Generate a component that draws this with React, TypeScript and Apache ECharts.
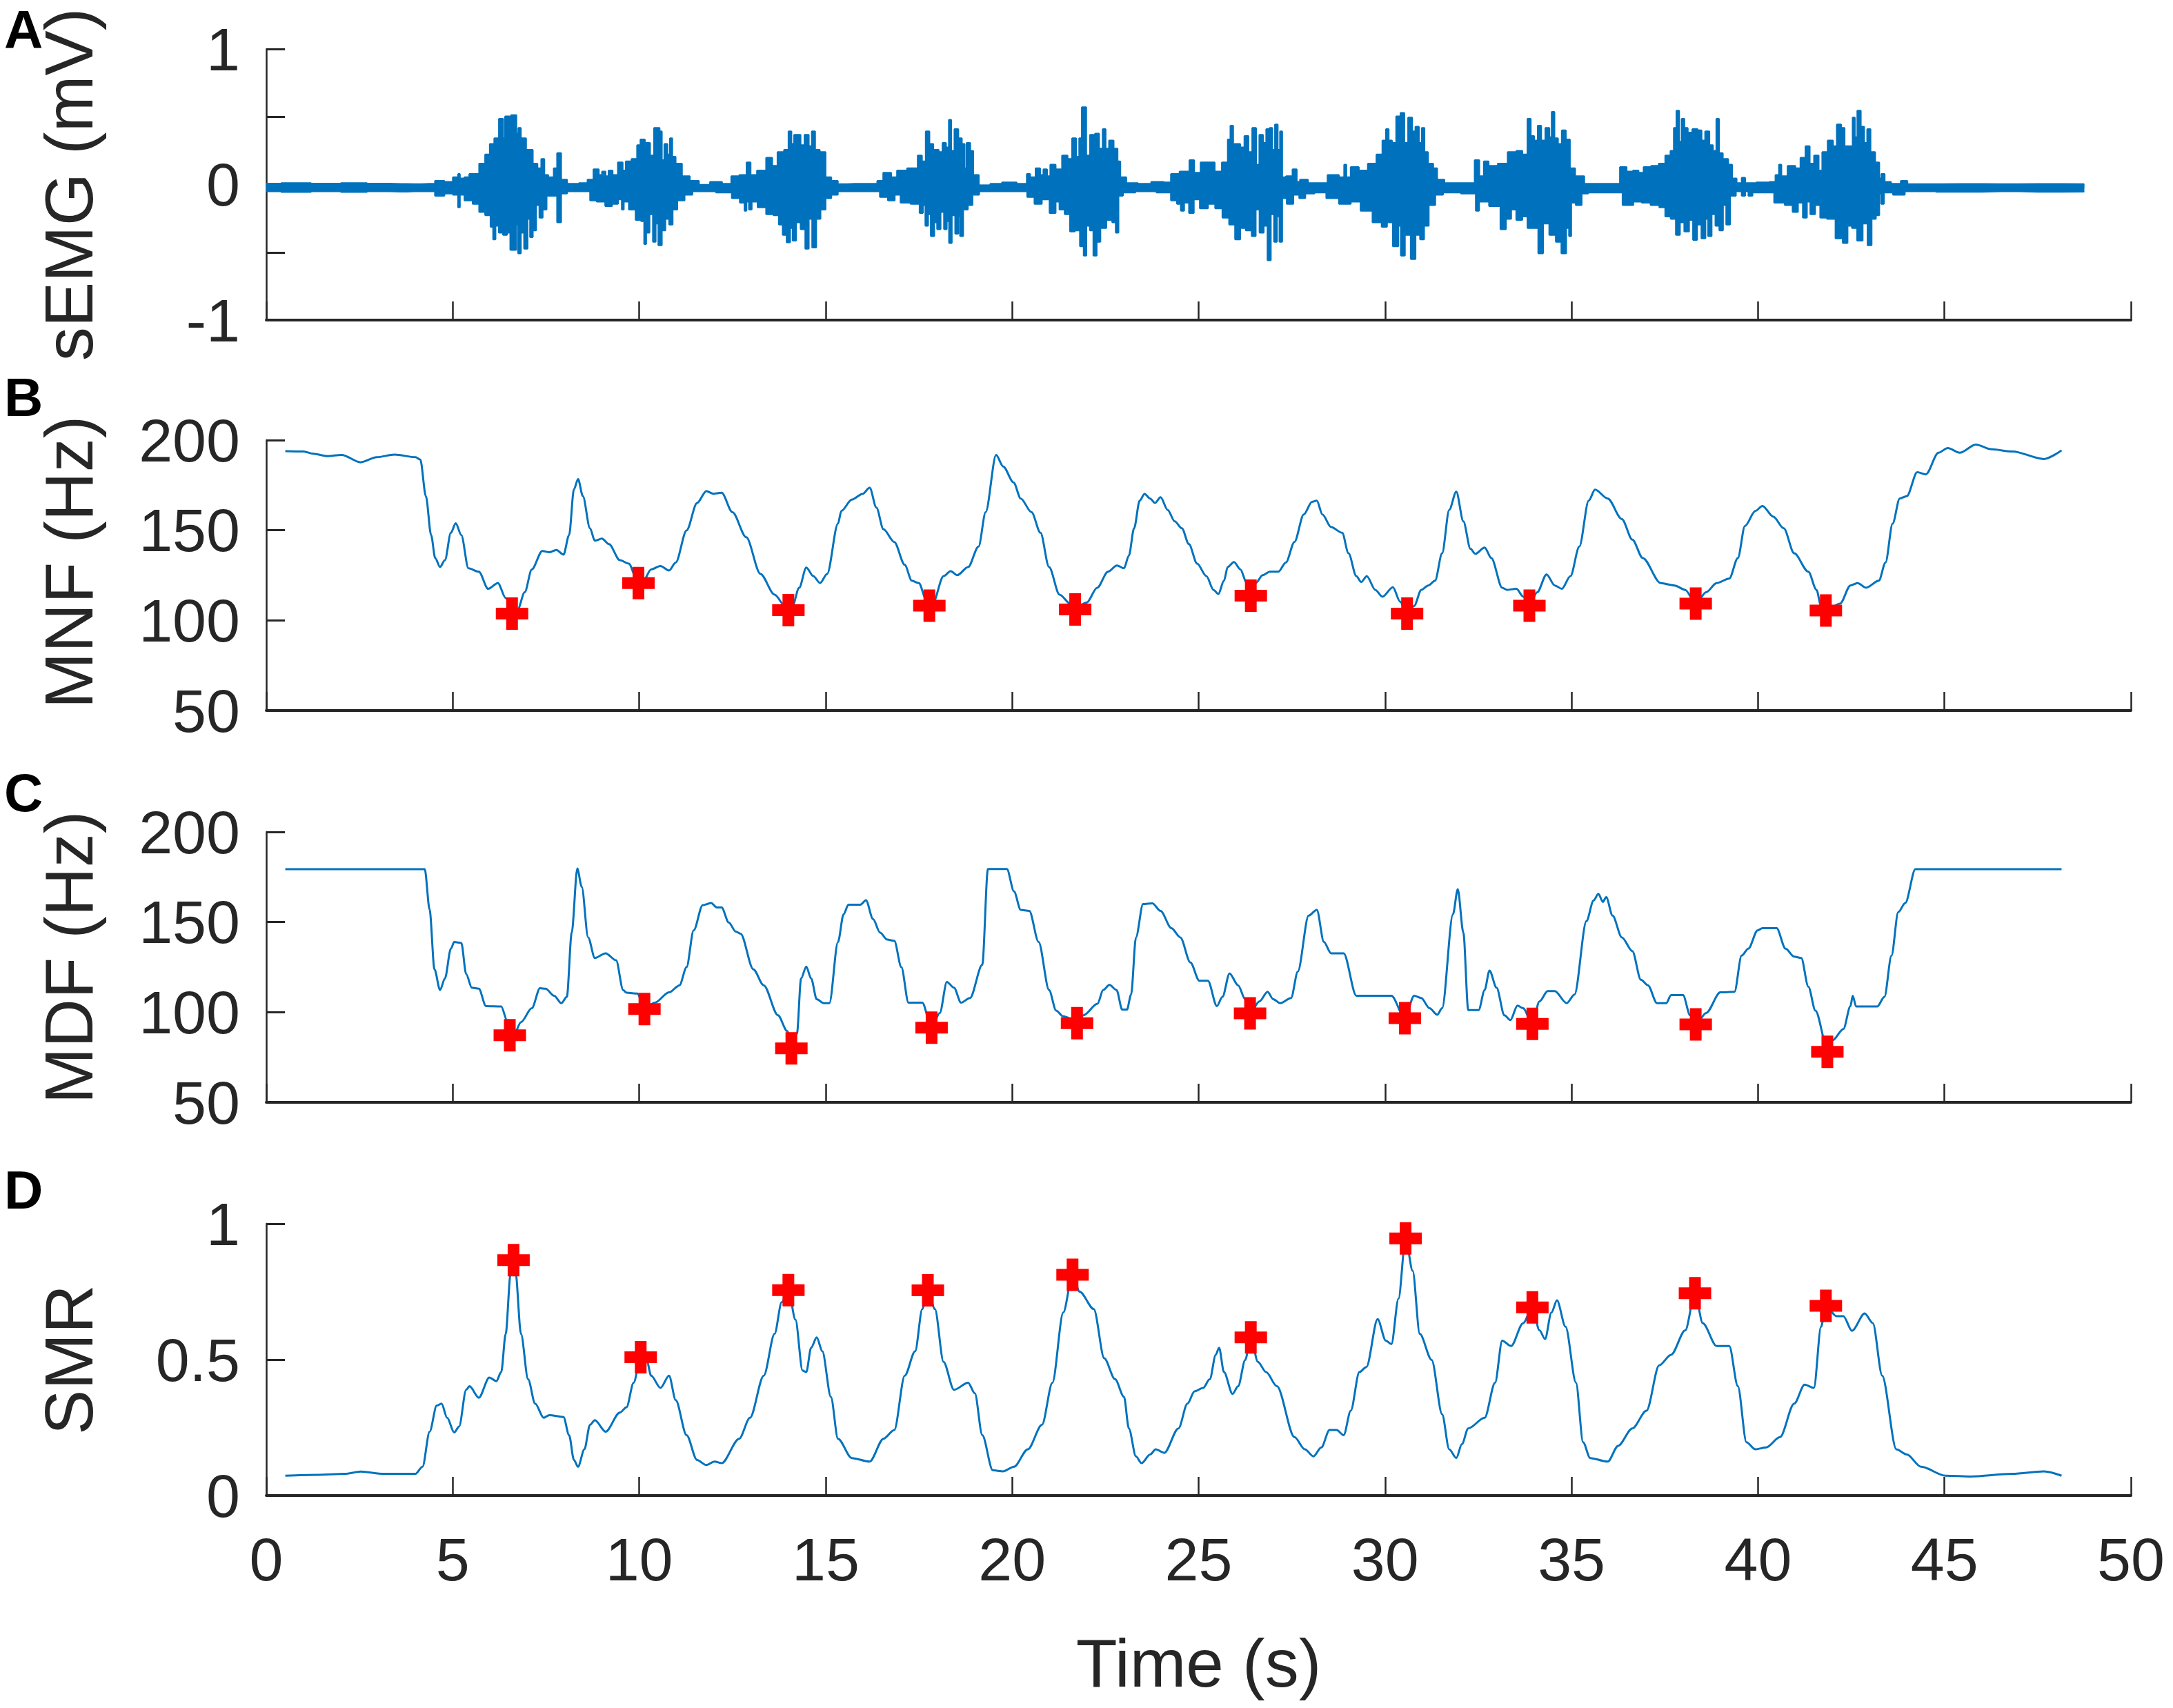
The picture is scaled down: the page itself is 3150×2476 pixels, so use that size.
import React, { useEffect, useRef } from 'react';
import * as echarts from 'echarts';

type Pt = [number, number];

const timeTicks = [0, 50, 5];

// sEMG envelope
const emgUpper: Pt[] = [
  [0, 0.006], [0.8, 0.01], [1.6, 0.006], [2.4, 0.01], [3, 0.006], [3.6, 0.004], [3.96, 0.002],
  [4.38, 0.005], [4.67, 0.027], [4.88, 0.019], [5.13, 0.053], [5.16, 0.078], [5.22, 0.044], [5.41, 0.053], [5.48, 0.078], [5.66, 0.078],
  [5.76, 0.154], [5.98, 0.222], [6.01, 0.299], [6.22, 0.341], [6.26, 0.485], [6.33, 0.485], [6.37, 0.341], [6.44, 0.502], [6.51, 0.502],
  [6.54, 0.324], [6.59, 0.511], [6.68, 0.511], [6.73, 0.375], [6.79, 0.417], [6.86, 0.341], [7.07, 0.256], [7.22, 0.154], [7.32, 0.12],
  [7.43, 0.188], [7.48, 0.07], [7.64, 0.053], [7.78, 0.12], [7.82, 0.231], [7.89, 0.231], [7.92, 0.036], [8.21, 0.005], [8.56, 0.01],
  [8.67, 0.036], [8.88, 0.112], [8.95, 0.07], [9.06, 0.095], [9.13, 0.061], [9.23, 0.103], [9.34, 0.07], [9.52, 0.163], [9.59, 0.103],
  [9.69, 0.171], [9.9, 0.188], [9.99, 0.29], [10.08, 0.332], [10.22, 0.307], [10.36, 0.214], [10.44, 0.417], [10.51, 0.417], [10.58, 0.392],
  [10.63, 0.18], [10.72, 0.299], [10.79, 0.222], [10.86, 0.341], [10.91, 0.205], [11.04, 0.154], [11.25, 0.061], [11.46, 0.027], [11.74, -0.002],
  [12.06, 0.019], [12.38, 0.005], [12.56, 0.061], [12.81, 0.07], [12.95, 0.163], [13.02, 0.07], [13.3, 0.103], [13.51, 0.197], [13.62, 0.137],
  [13.8, 0.239], [13.97, 0.256], [14.04, 0.392], [14.12, 0.299], [14.19, 0.366], [14.29, 0.366], [14.36, 0.29], [14.51, 0.366], [14.58, 0.282],
  [14.68, 0.392], [14.75, 0.256], [14.93, 0.239], [15.06, 0.053], [15.24, 0.027], [15.41, 0.002], [15.77, 0.005], [16.33, 0.005], [16.44, 0.027],
  [16.65, 0.087], [16.86, 0.053], [16.97, 0.103], [17.4, 0.12], [17.54, 0.214], [17.62, 0.171], [17.75, 0.392], [17.81, 0.299], [17.96, 0.256],
  [18.1, 0.239], [18.17, 0.307], [18.28, 0.273], [18.33, 0.477], [18.4, 0.248], [18.51, 0.409], [18.6, 0.341], [18.7, 0.299], [18.75, 0.12],
  [18.81, 0.307], [18.94, 0.248], [18.97, 0.07], [19.24, -0.007], [19.59, 0.005], [19.87, 0.015], [20.37, 0.005], [20.42, 0.078], [20.54, 0.053],
  [20.72, 0.12], [20.78, 0.07], [20.9, 0.112], [20.97, 0.061], [21.08, 0.146], [21.25, 0.112], [21.43, 0.214], [21.54, 0.188], [21.68, 0.341],
  [21.75, 0.205], [21.85, 0.341], [21.89, 0.57], [21.96, 0.57], [22.01, 0.214], [22.17, 0.366], [22.28, 0.375], [22.38, 0.265], [22.48, 0.409],
  [22.53, 0.265], [22.67, 0.324], [22.77, 0.265], [22.88, 0.171], [22.92, 0.053], [23.2, 0.01], [23.55, 0.005], [23.91, 0.019], [24.22, 0.015],
  [24.3, 0.078], [24.68, 0.095], [24.83, 0.18], [24.93, 0.087], [25.18, 0.163], [25.36, 0.163], [25.5, 0.095], [25.75, 0.163], [25.82, 0.332],
  [25.89, 0.434], [25.96, 0.299], [26.07, 0.299], [26.16, 0.273], [26.3, 0.358], [26.37, 0.239], [26.51, 0.417], [26.57, 0.146], [26.69, 0.366],
  [26.76, 0.307], [26.87, 0.409], [26.94, 0.417], [27.01, 0.256], [27.09, 0.443], [27.15, 0.256], [27.22, 0.392], [27.26, 0.053], [27.43, 0.061],
  [27.61, 0.112], [27.65, 0.019], [27.79, 0.036], [28.07, 0.01], [28.28, 0.01], [28.64, 0.07], [28.88, 0.053], [28.93, 0.146], [28.99, 0.053],
  [29.17, 0.129], [29.42, 0.103], [29.66, 0.154], [29.88, 0.222], [29.98, 0.324], [30.07, 0.409], [30.12, 0.324], [30.25, 0.307], [30.35, 0.502],
  [30.48, 0.528], [30.55, 0.307], [30.69, 0.494], [30.76, 0.392], [30.87, 0.426], [30.94, 0.307], [31.03, 0.417], [31.08, 0.239], [31.22, 0.154],
  [31.36, 0.12], [31.43, 0.036], [31.75, 0.01], [32.39, 0.01], [32.42, 0.18], [32.49, 0.18], [32.56, 0.061], [32.74, 0.171], [32.81, 0.137],
  [33.24, 0.154], [33.34, 0.239], [33.45, 0.239], [33.59, 0.248], [33.77, 0.222], [33.87, 0.485], [33.94, 0.358], [34.05, 0.324], [34.14, 0.434],
  [34.23, 0.324], [34.37, 0.417], [34.44, 0.349], [34.5, 0.536], [34.58, 0.341], [34.69, 0.299], [34.79, 0.4], [34.9, 0.332], [35.01, 0.12],
  [35.18, 0.061], [35.5, 0.005], [36.21, 0.005], [36.39, 0.129], [36.56, 0.095], [36.74, 0.103], [36.85, 0.087], [37.02, 0.129], [37.25, 0.137],
  [37.43, 0.154], [37.6, 0.214], [37.71, 0.248], [37.78, 0.417], [37.85, 0.545], [37.92, 0.316], [37.99, 0.485], [38.06, 0.417], [38.17, 0.383],
  [38.31, 0.409], [38.45, 0.4], [38.52, 0.324], [38.65, 0.392], [38.74, 0.29], [38.84, 0.248], [38.93, 0.485], [38.98, 0.231], [39.13, 0.188],
  [39.27, 0.146], [39.34, 0.044], [39.51, 0.01], [39.62, 0.049], [39.69, 0.01], [40.22, 0.015], [40.4, 0.019], [40.54, 0.07], [40.59, 0.146],
  [40.66, 0.061], [40.93, 0.137], [41.07, 0.12], [41.21, 0.197], [41.34, 0.282], [41.43, 0.154], [41.58, 0.214], [41.67, 0.103], [41.78, 0.239],
  [41.96, 0.324], [42.06, 0.282], [42.17, 0.443], [42.29, 0.417], [42.35, 0.282], [42.52, 0.282], [42.56, 0.494], [42.63, 0.349], [42.7, 0.545],
  [42.81, 0.426], [42.88, 0.307], [42.98, 0.409], [43.05, 0.239], [43.23, 0.163], [43.27, 0.044], [43.35, 0.078], [43.44, 0.019], [43.69, 0.005],
  [43.97, 0.027], [44.04, 0.002], [44.33, 0.002], [45.5, 0.004], [46.5, 0.002], [47.5, 0.004], [48.75, 0.002],
];

const emgLower: Pt[] = [
  [0, -0.05], [0.8, -0.055], [1.6, -0.05], [2.4, -0.055], [3, -0.05], [3.6, -0.052], [3.96, -0.05],
  [4.38, -0.049], [4.67, -0.083], [4.88, -0.066], [5.13, -0.075], [5.16, -0.168], [5.22, -0.075], [5.41, -0.117], [5.66, -0.142], [5.76, -0.202],
  [5.98, -0.227], [6.05, -0.312], [6.12, -0.405], [6.17, -0.304], [6.3, -0.355], [6.4, -0.371], [6.51, -0.355], [6.58, -0.482], [6.68, -0.482],
  [6.72, -0.295], [6.79, -0.507], [6.86, -0.355], [6.97, -0.473], [7.04, -0.253], [7.11, -0.388], [7.18, -0.338], [7.29, -0.151], [7.36, -0.244],
  [7.46, -0.185], [7.57, -0.083], [7.78, -0.083], [7.82, -0.278], [7.89, -0.278], [7.92, -0.066], [8.21, -0.049], [8.63, -0.049], [8.74, -0.117],
  [8.98, -0.126], [9.2, -0.159], [9.34, -0.142], [9.52, -0.109], [9.55, -0.185], [9.62, -0.126], [9.83, -0.185], [9.98, -0.261], [10.12, -0.27],
  [10.15, -0.439], [10.22, -0.355], [10.33, -0.219], [10.41, -0.422], [10.47, -0.287], [10.56, -0.448], [10.65, -0.338], [10.75, -0.253],
  [10.86, -0.295], [10.93, -0.185], [11.11, -0.117], [11.32, -0.075], [11.53, -0.049], [11.74, -0.049], [12.38, -0.058], [12.59, -0.1],
  [12.81, -0.134], [12.84, -0.193], [12.91, -0.126], [12.98, -0.185], [13.05, -0.126], [13.3, -0.168], [13.51, -0.219], [13.69, -0.227],
  [13.8, -0.295], [13.9, -0.371], [14.01, -0.426], [14.08, -0.321], [14.15, -0.414], [14.26, -0.278], [14.4, -0.329], [14.51, -0.473],
  [14.58, -0.253], [14.7, -0.465], [14.79, -0.253], [14.93, -0.185], [15.06, -0.1], [15.24, -0.075], [15.41, -0.049], [16.33, -0.049],
  [16.58, -0.092], [16.76, -0.117], [16.94, -0.075], [17.08, -0.134], [17.47, -0.142], [17.57, -0.21], [17.64, -0.151], [17.71, -0.304],
  [17.78, -0.219], [17.86, -0.38], [17.96, -0.278], [18.02, -0.329], [18.14, -0.202], [18.21, -0.329], [18.28, -0.27], [18.34, -0.431],
  [18.42, -0.227], [18.53, -0.363], [18.58, -0.236], [18.63, -0.38], [18.74, -0.185], [18.88, -0.151], [18.99, -0.075], [19.24, -0.049],
  [20.3, -0.049], [20.51, -0.092], [20.69, -0.142], [20.9, -0.109], [21.11, -0.21], [21.22, -0.126], [21.32, -0.185], [21.5, -0.219],
  [21.61, -0.346], [21.75, -0.338], [21.89, -0.456], [21.95, -0.524], [22.03, -0.304], [22.14, -0.338], [22.22, -0.524], [22.31, -0.422],
  [22.42, -0.321], [22.63, -0.261], [22.74, -0.278], [22.82, -0.355], [22.88, -0.083], [23.06, -0.058], [23.55, -0.049], [24.19, -0.058],
  [24.33, -0.117], [24.51, -0.142], [24.54, -0.193], [24.68, -0.134], [24.81, -0.21], [24.93, -0.109], [25.14, -0.176], [25.36, -0.142],
  [25.53, -0.176], [25.75, -0.244], [25.89, -0.295], [26.07, -0.405], [26.16, -0.321], [26.37, -0.338], [26.48, -0.38], [26.58, -0.185],
  [26.69, -0.355], [26.8, -0.304], [26.9, -0.558], [26.97, -0.219], [27.08, -0.422], [27.12, -0.236], [27.22, -0.422], [27.26, -0.1],
  [27.47, -0.142], [27.61, -0.075], [27.79, -0.1], [27.93, -0.066], [28.28, -0.058], [28.57, -0.1], [28.96, -0.142], [29.2, -0.126],
  [29.49, -0.193], [29.84, -0.278], [29.98, -0.312], [30.12, -0.278], [30.3, -0.456], [30.41, -0.304], [30.44, -0.524], [30.62, -0.371],
  [30.76, -0.55], [30.87, -0.371], [31.01, -0.405], [31.08, -0.304], [31.26, -0.151], [31.43, -0.075], [31.68, -0.058], [32.39, -0.066],
  [32.48, -0.193], [32.56, -0.126], [33.02, -0.159], [33.17, -0.329], [33.31, -0.253], [33.45, -0.185], [33.59, -0.261], [33.77, -0.236],
  [33.87, -0.321], [34.05, -0.321], [34.17, -0.507], [34.3, -0.287], [34.51, -0.371], [34.65, -0.422], [34.81, -0.507], [34.9, -0.321],
  [34.97, -0.38], [35.01, -0.134], [35.22, -0.151], [35.32, -0.066], [35.57, -0.058], [36.21, -0.058], [36.53, -0.151], [36.78, -0.126],
  [36.99, -0.134], [37.25, -0.151], [37.46, -0.168], [37.57, -0.236], [37.75, -0.253], [37.85, -0.371], [37.96, -0.278], [38.09, -0.346],
  [38.21, -0.261], [38.31, -0.409], [38.42, -0.295], [38.55, -0.397], [38.63, -0.253], [38.7, -0.38], [38.81, -0.219], [38.91, -0.304],
  [39.02, -0.338], [39.1, -0.151], [39.2, -0.295], [39.3, -0.083], [39.51, -0.049], [39.62, -0.083], [39.69, -0.049], [39.8, -0.083],
  [39.9, -0.058], [40.29, -0.058], [40.58, -0.134], [40.86, -0.151], [41, -0.202], [41.14, -0.134], [41.27, -0.244], [41.35, -0.126],
  [41.46, -0.219], [41.6, -0.151], [41.74, -0.244], [41.96, -0.253], [42.2, -0.397], [42.35, -0.431], [42.45, -0.304], [42.59, -0.321],
  [42.73, -0.414], [42.88, -0.287], [43, -0.448], [43.09, -0.253], [43.23, -0.227], [43.27, -0.066], [43.34, -0.142], [43.41, -0.058],
  [43.83, -0.075], [44.04, -0.049], [45.5, -0.053], [46.5, -0.05], [47.5, -0.053], [48.75, -0.052],
];

const mnfLine: Pt[] = [
  [0.51, 193.9], [1, 193.7], [1.26, 192.4], [1.64, 191.1], [2.02, 191.8], [2.53, 187.7], [2.96, 190.5], [3.44, 192], [4, 190.5], [4.13, 189.2],
  [4.28, 168.9], [4.42, 147.3], [4.53, 134.6], [4.66, 129.6], [4.79, 133.4], [4.95, 148.6], [5.08, 153.9], [5.23, 147.3], [5.42, 128.9], [5.7, 127],
  [5.95, 117.5], [6.21, 120.7], [6.42, 112.4], [6.6, 104.8], [6.74, 106], [6.93, 115.6], [7.12, 128.3], [7.4, 138.5], [7.59, 137.8], [7.78, 139.1],
  [7.97, 136.5], [8.12, 147.3], [8.25, 172.7], [8.36, 178.4], [8.49, 168.9], [8.68, 151.1], [8.81, 144.2], [9, 145.4], [9.19, 142.3], [9.48, 133.4],
  [9.72, 131.5], [9.95, 122], [10.08, 120.7], [10.32, 128.3], [10.57, 130.2], [10.8, 127.7], [10.98, 132.1], [11.27, 149.9], [11.55, 165.1], [11.8, 171.7],
  [11.99, 170.2], [12.21, 170.8], [12.5, 160], [12.87, 146.1], [13.25, 125.8], [13.63, 114.3], [13.91, 108], [14.1, 107.4], [14.29, 118.1], [14.48, 129.3],
  [14.67, 124.5], [14.85, 120.7], [15.04, 125.8], [15.33, 153.7], [15.42, 160.7], [15.7, 167], [15.99, 170.2], [16.18, 173.6], [16.36, 162.6], [16.55, 150.5],
  [16.84, 143.5], [17.12, 130.8], [17.31, 122], [17.5, 120.7], [17.69, 111.8], [17.87, 109.3], [18.16, 124.5], [18.35, 127.3], [18.53, 125.1], [18.82, 129.6],
  [19.1, 141], [19.29, 160], [19.57, 191.8], [19.76, 185.4], [20.04, 176.5], [20.23, 167.6], [20.52, 160], [20.76, 148.6], [20.99, 129.6], [21.27, 114.3],
  [21.56, 109.3], [21.72, 107.5], [22, 109.9], [22.28, 118.1], [22.57, 127], [22.81, 130.5], [23, 128.9], [23.13, 135.9], [23.27, 151.1], [23.42, 166.4],
  [23.55, 170.2], [23.7, 167.6], [23.83, 165.1], [23.98, 168.3], [24.17, 161.3], [24.36, 154.9], [24.55, 151.1], [24.74, 142.3], [24.96, 131.5], [25.21, 124.5],
  [25.4, 116.9], [25.53, 114.6], [25.68, 122], [25.78, 129.6], [25.95, 132.4], [26.12, 128.3], [26.29, 120.7], [26.4, 113.7], [26.53, 120.7], [26.72, 125.1],
  [26.91, 127], [27.14, 127], [27.34, 132.1], [27.57, 143.5], [27.82, 158.8], [28.04, 165.8], [28.17, 166.4], [28.32, 158.8], [28.55, 151.8], [28.85, 148.6],
  [29.02, 137.2], [29.23, 124.5], [29.36, 121.3], [29.51, 124.5], [29.74, 116.9], [29.93, 113.1], [30.21, 118.4], [30.4, 110.5], [30.59, 104.2], [30.78, 108],
  [30.97, 116.9], [31.16, 119.4], [31.34, 122], [31.53, 137.2], [31.72, 161.3], [31.91, 171.4], [32.1, 154.9], [32.29, 139.7], [32.42, 136.9], [32.67, 140.4],
  [32.85, 134.6], [33.14, 118.1], [33.27, 116.9], [33.52, 117.5], [33.71, 113.1], [33.87, 108.6], [34.08, 115.6], [34.33, 125.5], [34.55, 119.4], [34.74, 117.5],
  [34.97, 124.5], [35.21, 141], [35.46, 166.4], [35.63, 172.5], [35.97, 167.6], [36.35, 156.2], [36.63, 144.8], [36.91, 134.6], [37.39, 120.7], [37.76, 119.4],
  [38.05, 116.9], [38.33, 109.3], [38.61, 115.6], [38.89, 120.7], [39.23, 123.2], [39.46, 134.6], [39.65, 152.4], [39.93, 160.7], [40.12, 163.5], [40.41, 157.5],
  [40.69, 151.1], [40.97, 137.2], [41.35, 127], [41.57, 116.9], [41.69, 108], [41.9, 106.5], [42.2, 109.3], [42.48, 119.4], [42.67, 120.7], [42.9, 118.1],
  [43.24, 122], [43.42, 132.1], [43.61, 153.7], [43.8, 167.6], [43.99, 168.9], [44.27, 182.2], [44.5, 181], [44.84, 193], [45.09, 195.6], [45.41, 193],
  [45.84, 197.5], [46.26, 194.9], [46.82, 193.7], [47.67, 189.5], [48.14, 194.3],
];

const mnfMarks: Pt[] = [
  [6.59, 103.8], [9.98, 120.7], [14, 105.7], [17.78, 108.2], [21.69, 106.1], [26.4, 113.7], [30.59, 103.8], [33.87, 108.2], [38.33, 109.3], [41.82, 105.5],
];

const mdfLine: Pt[] = [
  [0.51, 179.3], [4.25, 179.3], [4.38, 156.8], [4.51, 123.8], [4.66, 112.3], [4.79, 118.7], [4.95, 135.2], [5.04, 139], [5.23, 138.4], [5.36, 121.2],
  [5.51, 113.6], [5.7, 113], [5.89, 103.4], [6.3, 103.2], [6.46, 95.2], [6.64, 87.5], [6.83, 94.5], [7.12, 102.2], [7.34, 113.3], [7.49, 113],
  [7.72, 109.1], [7.91, 105], [8.06, 108.5], [8.19, 144.1], [8.34, 179.7], [8.46, 169.5], [8.63, 141.5], [8.81, 130.1], [9.1, 132.7], [9.38, 128.8],
  [9.57, 112.3], [9.66, 110.8], [9.95, 110.4], [10.14, 101.8], [10.42, 105.3], [10.8, 111], [11.08, 114.9], [11.27, 125], [11.46, 145.4], [11.7, 159.3],
  [11.93, 160.6], [12.08, 158.1], [12.21, 158.1], [12.4, 149.8], [12.59, 144.7], [12.72, 143.5], [13.06, 123.8], [13.34, 114.9], [13.72, 98.3], [13.97, 89.5],
  [14.08, 81], [14.23, 88.2], [14.34, 118.7], [14.48, 125.3], [14.61, 118.7], [14.76, 107.2], [14.95, 105], [15.1, 105], [15.33, 139], [15.48, 154.3],
  [15.61, 159.6], [15.93, 159.6], [16.08, 162.1], [16.27, 151.7], [16.46, 144.1], [16.65, 140.3], [16.84, 139.6], [17.03, 125], [17.22, 105.3], [17.59, 105.3],
  [17.84, 91.4], [18.06, 99.6], [18.25, 116.8], [18.44, 113.6], [18.63, 105.3], [18.87, 107.9], [19.2, 126.3], [19.35, 179.4], [19.86, 179.4], [20.05, 167],
  [20.23, 156.8], [20.46, 156.2], [20.71, 139], [20.99, 112.3], [21.18, 100.9], [21.37, 97.7], [21.74, 95], [21.91, 98.3], [22.29, 104.7], [22.44, 112.3],
  [22.61, 115.1], [22.8, 112.3], [22.95, 101.5], [23.08, 101.5], [23.19, 109.8], [23.32, 141.5], [23.51, 160], [23.76, 160.4], [23.98, 156.2], [24.27, 146.6],
  [24.51, 141.5], [24.78, 127.6], [25.02, 117.4], [25.25, 117.4], [25.49, 103.4], [25.64, 108.5], [25.83, 121.5], [26.06, 114.9], [26.25, 107.2], [26.38, 99.4],
  [26.63, 106], [26.85, 111.3], [27, 107.2], [27.19, 105], [27.48, 107.9], [27.66, 122.5], [27.95, 153.6], [28.17, 156.8], [28.36, 139], [28.55, 132.7],
  [28.89, 132.7], [29.23, 109.1], [30.17, 109.1], [30.53, 96.7], [30.78, 109.1], [30.97, 107.9], [31.19, 102.2], [31.4, 98.6], [31.53, 102.2], [31.82, 154.3],
  [31.95, 168.2], [32.1, 144.1], [32.23, 101.2], [32.51, 101.2], [32.67, 112.3], [32.8, 123.1], [32.99, 113.6], [33.2, 98.3], [33.36, 95.6], [33.55, 103.7],
  [33.7, 102.2], [33.95, 93.5], [34.14, 106], [34.36, 111.7], [34.55, 111.7], [34.87, 105], [35.08, 109.8], [35.4, 150.5], [35.59, 161.9], [35.72, 165.7],
  [35.84, 161.2], [35.93, 163.8], [36.1, 153.6], [36.35, 141.5], [36.63, 133.9], [36.86, 118], [37.05, 114.9], [37.29, 105], [37.54, 105], [37.67, 109.5],
  [37.99, 109.5], [38.18, 98.3], [38.33, 93.2], [38.61, 99.6], [38.99, 111], [39.37, 111.3], [39.56, 131.4], [39.74, 135.2], [39.99, 145.4], [40.12, 146.6],
  [40.5, 146.6], [40.74, 135.2], [40.97, 130.8], [41.16, 130.1], [41.35, 114.2], [41.54, 100.9], [41.86, 80], [42, 84.4], [42.29, 90.7], [42.48, 103.4],
  [42.54, 109.1], [42.63, 103.2], [43.2, 103.2], [43.39, 108.5], [43.58, 131.4], [43.76, 155.5], [43.95, 160.6], [44.22, 179.3], [48.14, 179.3],
];

const mdfMarks: Pt[] = [
  [6.53, 87.2], [10.14, 101.8], [14.08, 79.9], [17.84, 91.4], [21.74, 93.9], [26.38, 99.4], [30.53, 96.7], [33.95, 93.5], [38.33, 93.2], [41.86, 78],
];

const smrLine: Pt[] = [
  [0.51, 0.073], [1.36, 0.076], [2.11, 0.08], [2.53, 0.088], [3.15, 0.08], [4, 0.08], [4.19, 0.106], [4.38, 0.235], [4.57, 0.331], [4.7, 0.338],
  [4.85, 0.286], [5.04, 0.232], [5.17, 0.254], [5.36, 0.389], [5.45, 0.402], [5.7, 0.36], [5.98, 0.434], [6.17, 0.421], [6.3, 0.454], [6.42, 0.595],
  [6.55, 0.814], [6.63, 0.866], [6.68, 0.827], [6.83, 0.595], [7.02, 0.428], [7.21, 0.338], [7.44, 0.286], [7.59, 0.296], [7.97, 0.289], [8.12, 0.222],
  [8.25, 0.131], [8.36, 0.106], [8.53, 0.17], [8.68, 0.26], [8.81, 0.277], [9.1, 0.235], [9.48, 0.305], [9.66, 0.325], [9.85, 0.415], [10.04, 0.509],
  [10.19, 0.505], [10.32, 0.441], [10.57, 0.396], [10.8, 0.441], [10.98, 0.351], [11.27, 0.222], [11.55, 0.131], [11.8, 0.112], [12.02, 0.125], [12.21, 0.119],
  [12.68, 0.209], [12.97, 0.286], [13.34, 0.441], [13.63, 0.595], [13.82, 0.711], [14, 0.756], [14.19, 0.647], [14.38, 0.46], [14.48, 0.454], [14.61, 0.544],
  [14.76, 0.582], [14.91, 0.531], [15.14, 0.363], [15.33, 0.209], [15.7, 0.138], [16.18, 0.125], [16.55, 0.209], [16.84, 0.241], [17.12, 0.441], [17.4, 0.531],
  [17.59, 0.686], [17.74, 0.755], [17.93, 0.686], [18.16, 0.492], [18.44, 0.389], [18.82, 0.415], [19, 0.376], [19.2, 0.222], [19.48, 0.093], [19.76, 0.089],
  [20.05, 0.106], [20.42, 0.17], [20.8, 0.26], [21.08, 0.415], [21.37, 0.673], [21.62, 0.812], [21.81, 0.75], [22.19, 0.686], [22.47, 0.505], [22.76, 0.428],
  [23, 0.363], [23.13, 0.247], [23.32, 0.144], [23.47, 0.119], [23.7, 0.151], [23.85, 0.17], [24.08, 0.157], [24.46, 0.247], [24.7, 0.338], [24.89, 0.383],
  [25.12, 0.396], [25.3, 0.428], [25.46, 0.518], [25.55, 0.544], [25.68, 0.454], [25.91, 0.374], [26.06, 0.402], [26.25, 0.499], [26.4, 0.582], [26.59, 0.492],
  [26.81, 0.454], [27.1, 0.402], [27.57, 0.215], [27.85, 0.17], [28.08, 0.144], [28.29, 0.177], [28.51, 0.241], [28.7, 0.241], [28.89, 0.222], [29.08, 0.312],
  [29.31, 0.454], [29.5, 0.473], [29.8, 0.649], [30.02, 0.57], [30.17, 0.557], [30.36, 0.724], [30.55, 0.946], [30.74, 0.827], [30.93, 0.595], [31.25, 0.499],
  [31.53, 0.299], [31.72, 0.17], [31.91, 0.138], [32.06, 0.189], [32.23, 0.247], [32.67, 0.286], [32.95, 0.415], [33.14, 0.57], [33.38, 0.55], [33.7, 0.634],
  [33.95, 0.692], [34.14, 0.608], [34.29, 0.576], [34.46, 0.673], [34.61, 0.718], [34.84, 0.621], [35.12, 0.415], [35.31, 0.196], [35.5, 0.138], [35.97, 0.125],
  [36.25, 0.183], [36.63, 0.247], [37.01, 0.312], [37.35, 0.479], [37.67, 0.518], [38.05, 0.608], [38.31, 0.744], [38.52, 0.634], [38.89, 0.55], [39.23, 0.55],
  [39.46, 0.402], [39.69, 0.196], [39.93, 0.17], [40.22, 0.177], [40.59, 0.215], [40.97, 0.338], [41.25, 0.408], [41.5, 0.396], [41.69, 0.621], [41.82, 0.698],
  [42.1, 0.66], [42.29, 0.66], [42.52, 0.606], [42.86, 0.67], [43.08, 0.634], [43.33, 0.441], [43.71, 0.17], [43.99, 0.151], [44.37, 0.106], [45.03, 0.073],
  [45.69, 0.07], [46.82, 0.08], [47.67, 0.089], [48.14, 0.073],
];

const smrMarks: Pt[] = [
  [6.63, 0.866], [10.04, 0.509], [14, 0.756], [17.74, 0.755], [21.62, 0.812], [26.4, 0.582], [30.55, 0.946], [33.95, 0.692], [38.31, 0.744], [41.82, 0.698],
];

const blue = '#0072BD';
const ink = '#262626';
const font = '"Liberation Sans", Arial, sans-serif';
const plusSymbol = 'path://M15,0H32V15H47V32H32V47H15V32H0V15H15Z';

// panel frames: top, height in px
const panels = [
  { top: 71, height: 393, min: -1, max: 1, step: 0.5, name: 'sEMG (mV)', pad: 0, hide: [-0.5, 0.5] },
  { top: 638, height: 392, min: 50, max: 200, step: 50, name: 'MNF (Hz)', pad: 38, hide: [] as number[] },
  { top: 1206, height: 392, min: 50, max: 200, step: 50, name: 'MDF (Hz)', pad: 28, hide: [] as number[] },
  { top: 1774, height: 394, min: 0, max: 1, step: 0.5, name: 'SMR', pad: 0, hide: [] as number[] },
];

const letters = [
  { text: 'A', y: 4 },
  { text: 'B', y: 537 },
  { text: 'C', y: 1110 },
  { text: 'D', y: 1686 },
];

const plainLine = (idx: number, data: Pt[]) => ({
  type: 'line',
  xAxisIndex: idx,
  yAxisIndex: idx,
  data,
  showSymbol: false,
  silent: true,
  smooth: 0.3,
  smoothMonotone: 'x',
  lineStyle: { color: blue, width: 3, join: 'round' },
  z: 3,
});

const marks = (idx: number, data: Pt[]) => ({
  type: 'scatter',
  xAxisIndex: idx,
  yAxisIndex: idx,
  data,
  symbol: plusSymbol,
  symbolSize: 47,
  silent: true,
  itemStyle: { color: '#FF0000', opacity: 1 },
  z: 5,
});

// the two halves overlap around the centre so no seam shows at the origin
const envelope = (data: Pt[], origin: number) => ({
  type: 'line',
  xAxisIndex: 0,
  yAxisIndex: 0,
  data,
  step: 'middle',
  showSymbol: false,
  silent: true,
  lineStyle: { color: blue, width: 2.5 },
  areaStyle: { color: blue, opacity: 1, origin },
  z: 3,
});

export default function App() {
  const chartRef = useRef<HTMLDivElement>(null);

  useEffect(() => {
    if (!chartRef.current) return;
    document.body.style.margin = '0';
    const chart = echarts.init(chartRef.current, undefined, { renderer: 'svg' });

    const option: any = {
      animation: false,
      backgroundColor: '#ffffff',
      textStyle: { fontFamily: font, color: ink },
      grid: panels.map((p) => ({ left: 386, width: 2703, top: p.top, height: p.height, outerBoundsMode: 'none' })),
      xAxis: panels.map((_, i) => ({
        gridIndex: i,
        type: 'value',
        min: timeTicks[0],
        max: timeTicks[1],
        interval: timeTicks[2],
        splitLine: { show: false },
        axisLine: { onZero: false, lineStyle: { color: ink, width: 4 } },
        axisTick: { inside: true, length: 27, lineStyle: { color: ink, width: 2.5 } },
        axisLabel: i === 3
          ? { color: ink, fontFamily: font, fontSize: 88, margin: 48 }
          : { show: false },
        name: i === 3 ? 'Time (s)' : undefined,
        nameLocation: 'middle',
        nameGap: 194,
        nameTextStyle: { color: ink, fontFamily: font, fontSize: 98 },
      })),
      yAxis: panels.map((p, i) => ({
        gridIndex: i,
        type: 'value',
        min: p.min,
        max: p.max,
        interval: p.step,
        splitLine: { show: false },
        axisLine: { onZero: false, lineStyle: { color: ink, width: 2.5 } },
        axisTick: { inside: true, length: 27, lineStyle: { color: ink, width: 3 } },
        axisLabel: {
          color: ink,
          fontFamily: font,
          fontSize: 88,
          margin: 38,
          formatter: (v: number) => (p.hide.includes(v) ? '' : String(v)),
        },
        name: p.name,
        nameLocation: 'middle',
        nameGap: 237,
        nameTextStyle: {
          color: ink,
          fontFamily: font,
          fontSize: 98,
          padding: [0, 0, 0, p.pad],
        },
      })),
      graphic: letters.map((l) => ({
        type: 'text',
        left: 6,
        top: l.y,
        style: { text: l.text, fill: '#000000', font: `bold 78px ${font}` },
      })),
      series: [
        envelope(emgUpper, -0.03),
        envelope(emgLower, 0),
        plainLine(1, mnfLine),
        marks(1, mnfMarks),
        plainLine(2, mdfLine),
        marks(2, mdfMarks),
        plainLine(3, smrLine),
        marks(3, smrMarks),
      ],
    };

    chart.setOption(option);
    return () => chart.dispose();
  }, []);

  return <div ref={chartRef} style={{ width: 3150, height: 2476 }} />;
}
